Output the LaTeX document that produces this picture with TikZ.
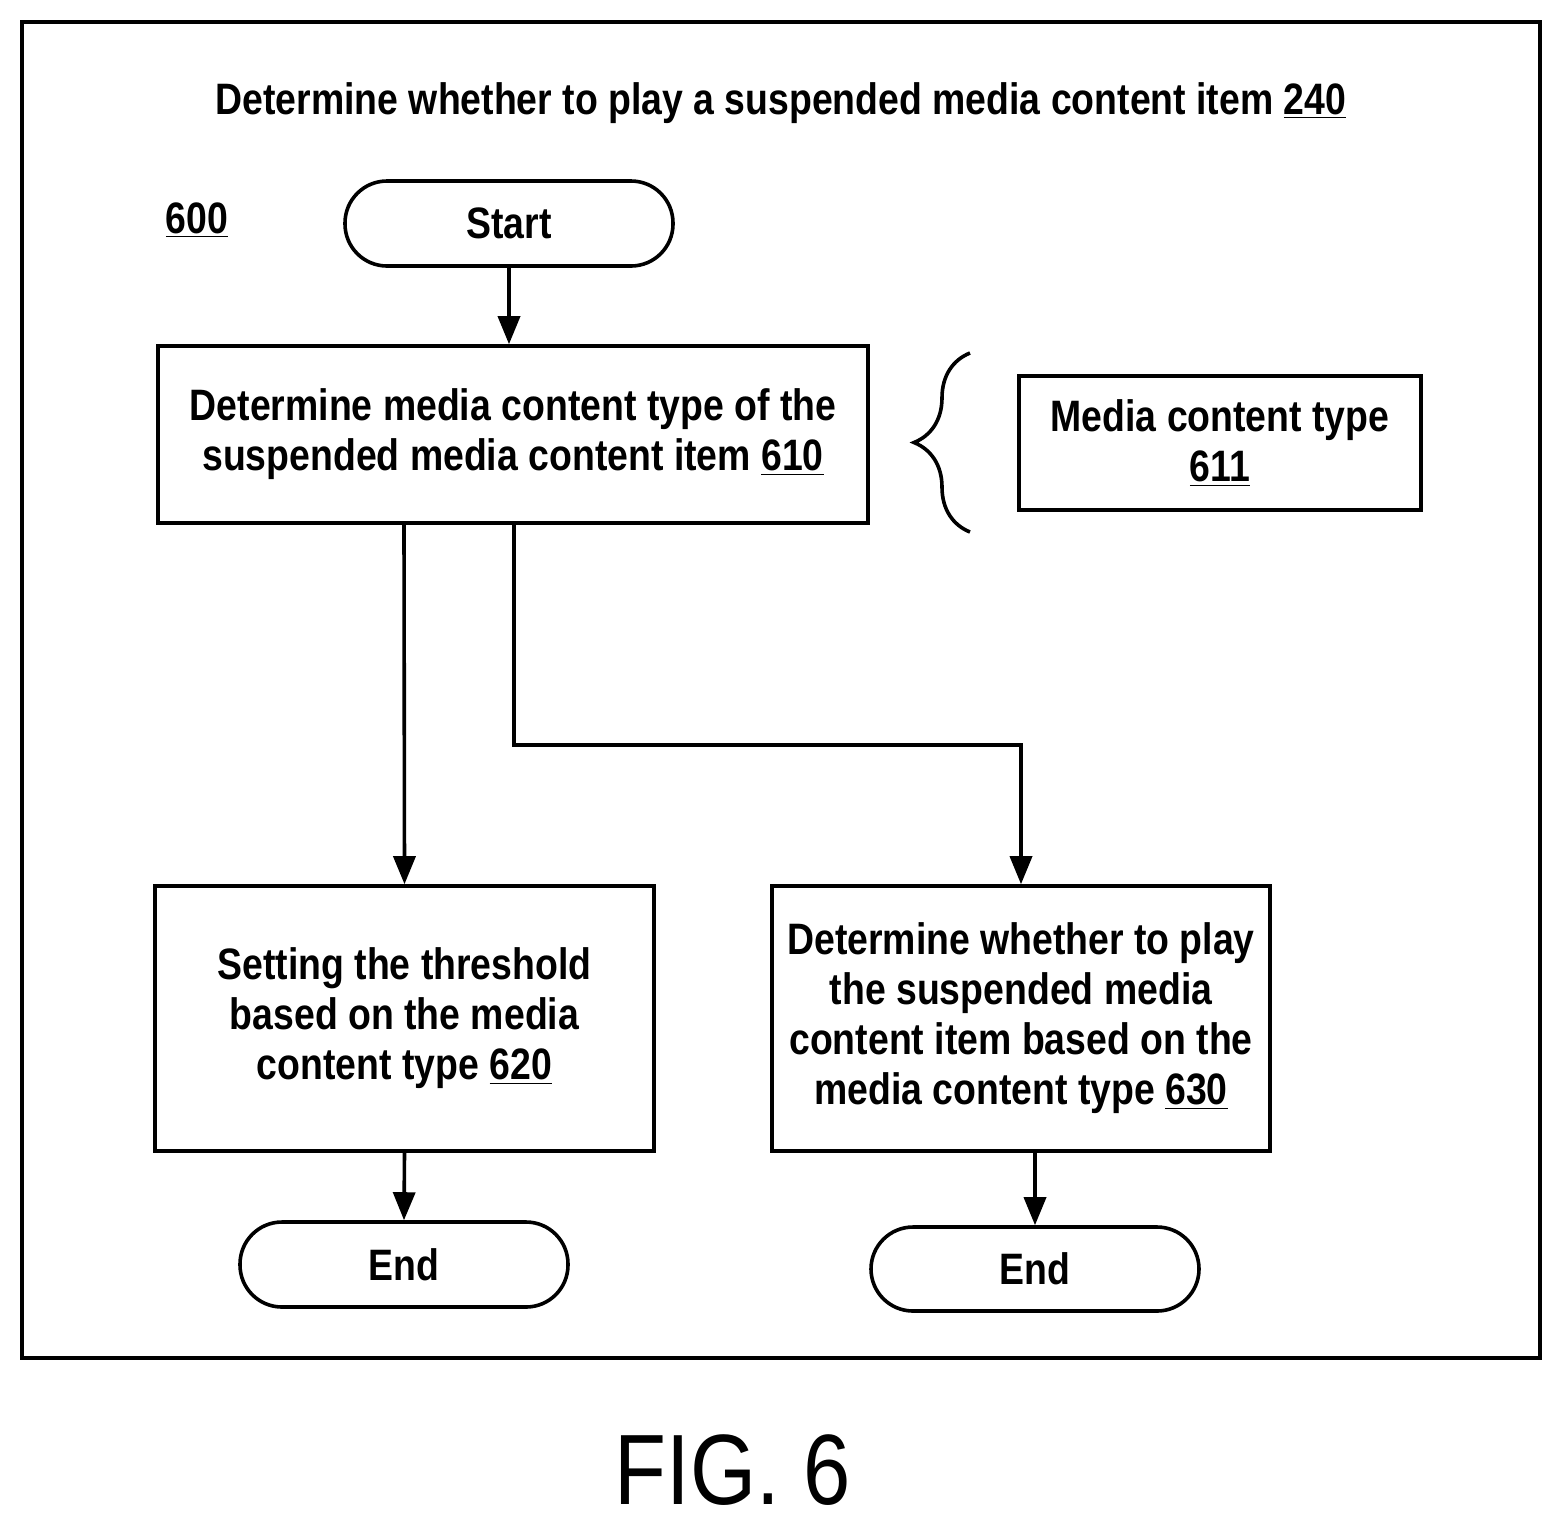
\documentclass[tikz,border=0pt]{standalone}
\usepackage{fontspec}
\setmainfont{Liberation Sans}[FakeStretch=0.85]
\usetikzlibrary{arrows.meta,decorations.pathreplacing}
\newcommand{\ul}[1]{\underline{#1}}
\begin{document}
\begin{tikzpicture}[x=0.5pt,y=-0.5pt,
  line width=1.8pt,
  txt/.style={font=\fontsize{22}{25}\selectfont\bfseries,align=center},
  box/.style={draw,txt,inner sep=0pt},
  term/.style={draw,txt,rounded corners=21pt,inner sep=0pt},
  arr/.style={-{Triangle[length=14pt,width=11pt]}}]
\useasboundingbox (0,0) rectangle (1562,1528);
\draw[line width=1.8pt] (22,22) rectangle (1540,1358);
\node[txt] (title) at (781,103) {Determine whether to play a suspended media content item \ul{240}};
\node[txt] (n600) at (197,220) {\ul{600}};
\node[term,minimum width=164pt,minimum height=42.5pt] (start) at (509,223.5) {Start};
\node[box,minimum width=355pt,minimum height=88.5pt] (b610) at (513,434.5) {Determine media content type of the\\suspended media content item \ul{610}};
\node[box,minimum width=201pt,minimum height=67pt] (b611) at (1220,443) {Media content type\\\ul{611}};
\node[box,minimum width=249.5pt,minimum height=132.5pt] (b620) at (404.5,1018.5) {Setting the threshold\\based on the media\\content type \ul{620}};
\node[box,minimum width=249pt,minimum height=132.5pt] (b630) at (1021,1018.5) {Determine whether to play\\the suspended media\\content item based on the\\media content type \ul{630}};
\node[term,minimum width=164pt,minimum height=42.5pt] (end1) at (404,1264.5) {End};
\node[term,minimum width=164pt,minimum height=42pt] (end2) at (1035,1269) {End};
\draw[decorate,decoration={brace,amplitude=28pt}] (970,532) -- (970,353);
\draw[arr] (start.south) -- (start.south |- b610.north);
\draw[arr] (404,523) -- (b620.north);
\draw[arr] (514,523) |- (1021,745) -- (b630.north);
\draw[arr] (b620.south) -- (end1.north);
\draw[arr] (b630.south -| end2.north) -- (end2.north);
\node[font=\fontsize{50}{54}\selectfont,inner sep=0pt] (fig) at (733,1470) {FIG. 6};
\end{tikzpicture}
\end{document}
